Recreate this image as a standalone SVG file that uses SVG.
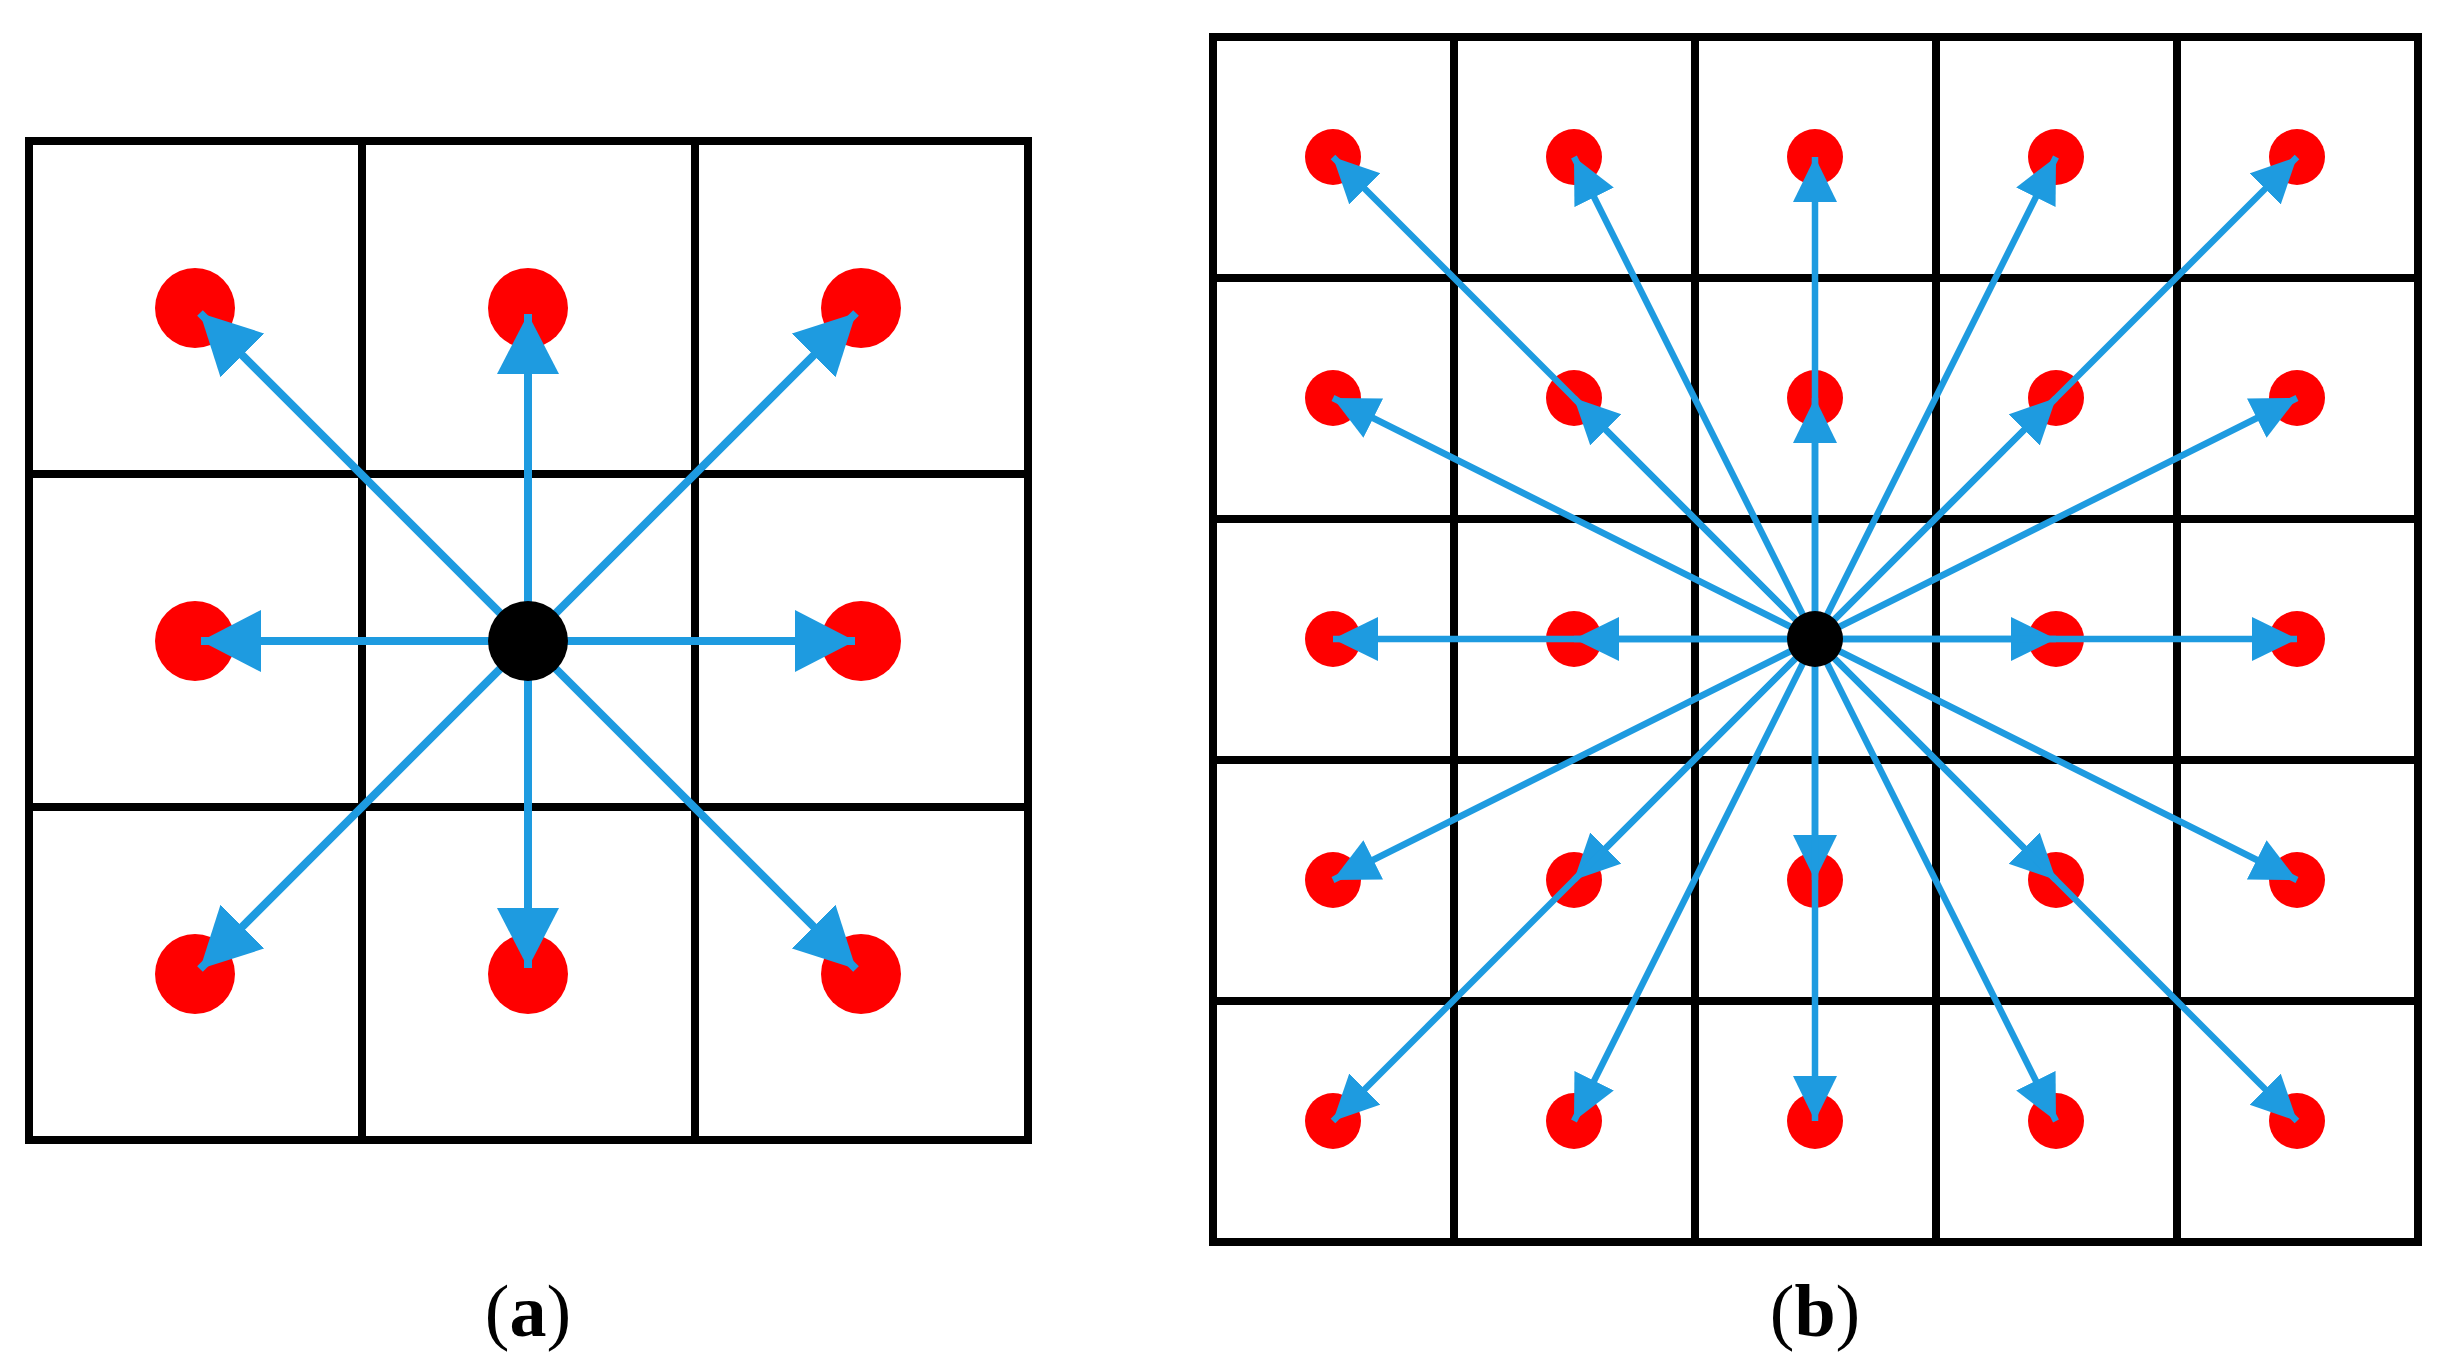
<svg xmlns="http://www.w3.org/2000/svg" width="2446" height="1363" viewBox="0 0 2446 1363">
<style>
.g{fill:none;stroke:#000;stroke-width:8}
.r{fill:#f00}
.a{stroke:#1e9be0;stroke-width:8;fill:none}
.b{stroke:#1e9be0;stroke-width:6.5;fill:none}
.t{font-family:"Liberation Serif",serif;font-size:74px}
</style>
<defs>
<marker id="ma" markerUnits="userSpaceOnUse" markerWidth="62" markerHeight="62" refX="60" refY="31" orient="auto"><path d="M0,0L60,31L0,62z" fill="#1e9be0"/></marker>
<marker id="mb" markerUnits="userSpaceOnUse" markerWidth="46" markerHeight="46" refX="45" refY="22" orient="auto"><path d="M0,0L45,22L0,44z" fill="#1e9be0"/></marker>
</defs>
<rect width="2446" height="1363" fill="#fff"/>
<g id="gridA">
<rect class="g" x="29" y="141" width="999" height="999"/>
<path class="g" d="M362,141V1140M695,141V1140M29,474H1028M29,807H1028"/>
</g>
<g id="dotsA">
<circle class="r" cx="195" cy="308" r="40"/><circle class="r" cx="528" cy="308" r="40"/><circle class="r" cx="861" cy="308" r="40"/>
<circle class="r" cx="195" cy="641" r="40"/><circle class="r" cx="861" cy="641" r="40"/>
<circle class="r" cx="195" cy="974" r="40"/><circle class="r" cx="528" cy="974" r="40"/><circle class="r" cx="861" cy="974" r="40"/>
</g>
<g id="connectorsA" class="a" marker-end="url(#ma)">
<path d="M528,641L200,313"/><path d="M528,641L528,314"/><path d="M528,641L856,313"/>
<path d="M528,641L201,641"/><path d="M528,641L855,641"/>
<path d="M528,641L200,969"/><path d="M528,641L528,968"/><path d="M528,641L856,969"/>
</g>
<circle id="centerA" cx="528" cy="641" r="40" fill="#000"/>
<g id="gridB">
<rect class="g" x="1213" y="37" width="1205" height="1205"/>
<path class="g" d="M1454,37V1242M1695,37V1242M1936,37V1242M2177,37V1242M1213,278H2418M1213,519H2418M1213,760H2418M1213,1001H2418"/>
</g>
<g id="dotsB">
<circle class="r" cx="1333" cy="157" r="28"/><circle class="r" cx="1574" cy="157" r="28"/><circle class="r" cx="1815" cy="157" r="28"/><circle class="r" cx="2056" cy="157" r="28"/><circle class="r" cx="2297" cy="157" r="28"/>
<circle class="r" cx="1333" cy="398" r="28"/><circle class="r" cx="1574" cy="398" r="28"/><circle class="r" cx="1815" cy="398" r="28"/><circle class="r" cx="2056" cy="398" r="28"/><circle class="r" cx="2297" cy="398" r="28"/>
<circle class="r" cx="1333" cy="639" r="28"/><circle class="r" cx="1574" cy="639" r="28"/><circle class="r" cx="2056" cy="639" r="28"/><circle class="r" cx="2297" cy="639" r="28"/>
<circle class="r" cx="1333" cy="880" r="28"/><circle class="r" cx="1574" cy="880" r="28"/><circle class="r" cx="1815" cy="880" r="28"/><circle class="r" cx="2056" cy="880" r="28"/><circle class="r" cx="2297" cy="880" r="28"/>
<circle class="r" cx="1333" cy="1121" r="28"/><circle class="r" cx="1574" cy="1121" r="28"/><circle class="r" cx="1815" cy="1121" r="28"/><circle class="r" cx="2056" cy="1121" r="28"/><circle class="r" cx="2297" cy="1121" r="28"/>
</g>
<g id="connectorsB" class="b" marker-end="url(#mb)">
<path d="M1815,639L1333,157"/><path d="M1815,639L1574,157"/><path d="M1815,639L1815,157"/><path d="M1815,639L2056,157"/><path d="M1815,639L2297,157"/>
<path d="M1815,639L1333,398"/><path d="M1815,639L1574,398"/><path d="M1815,639L1815,398"/><path d="M1815,639L2056,398"/><path d="M1815,639L2297,398"/>
<path d="M1815,639L1333,639"/><path d="M1815,639L1574,639"/><path d="M1815,639L2056,639"/><path d="M1815,639L2297,639"/>
<path d="M1815,639L1333,880"/><path d="M1815,639L1574,880"/><path d="M1815,639L1815,880"/><path d="M1815,639L2056,880"/><path d="M1815,639L2297,880"/>
<path d="M1815,639L1333,1121"/><path d="M1815,639L1574,1121"/><path d="M1815,639L1815,1121"/><path d="M1815,639L2056,1121"/><path d="M1815,639L2297,1121"/>
</g>
<circle id="centerB" cx="1815" cy="639" r="28" fill="#000"/>
<text class="t" x="528" y="1336" text-anchor="middle">(<tspan font-weight="bold">a</tspan>)</text>
<text class="t" x="1815" y="1336" text-anchor="middle">(<tspan font-weight="bold">b</tspan>)</text>
</svg>
